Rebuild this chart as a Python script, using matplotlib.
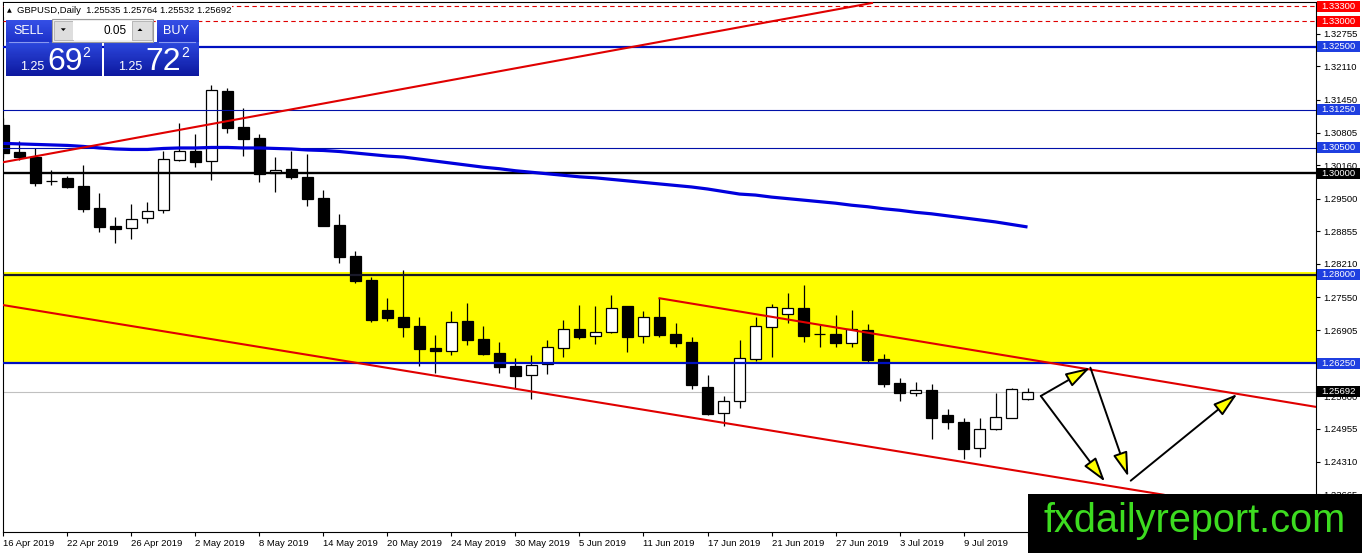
import matplotlib
matplotlib.use("Agg")
import matplotlib.pyplot as plt
import matplotlib.transforms as mtransforms
from matplotlib.patches import Rectangle, Polygon
import matplotlib.colors as mcolors
import numpy as np

plt.rcParams['font.family'] = ['Liberation Sans', 'DejaVu Sans']

# ---------------- data ----------------
opens = [1.30953, 1.30426, 1.30328, 1.29854, 1.29913, 1.29749, 1.29315, 1.28960, 1.28914, 1.29112,
         1.29270, 1.30263, 1.30440, 1.30237, 1.31625, 1.30914, 1.30697, 1.30000, 1.30079, 1.29927,
         1.29512, 1.28979, 1.28367, 1.27894, 1.27302, 1.27163, 1.26986, 1.26551, 1.26486, 1.27084,
         1.26729, 1.26447, 1.26196, 1.26013, 1.26242, 1.26557, 1.26926, 1.26782, 1.26861, 1.27381,
         1.26782, 1.27163, 1.26828, 1.26664, 1.25782, 1.25262, 1.25499, 1.26340, 1.26972, 1.27217,
         1.27335, 1.26828, 1.26828, 1.26644, 1.26901, 1.26328, 1.25855, 1.25657, 1.25722, 1.25229,
         1.25091, 1.24572, 1.24947, 1.25164, 1.25535]
highs = [1.31092, 1.30638, 1.30499, 1.30065, 1.29947, 1.30164, 1.29611, 1.29137, 1.29394, 1.29433,
         1.30446, 1.30987, 1.30776, 1.31737, 1.31678, 1.31283, 1.30770, 1.30316, 1.30446, 1.30381,
         1.29670, 1.29191, 1.28472, 1.27959, 1.27533, 1.28091, 1.27169, 1.26808, 1.27282, 1.27434,
         1.26986, 1.26670, 1.26348, 1.26413, 1.26709, 1.27104, 1.27400, 1.27381, 1.27598, 1.27390,
         1.27282, 1.27533, 1.27039, 1.26774, 1.26018, 1.25604, 1.26709, 1.27169, 1.27420, 1.27631,
         1.27795, 1.27025, 1.27203, 1.27302, 1.27025, 1.26427, 1.25953, 1.25880, 1.25835, 1.25341,
         1.25164, 1.25164, 1.25657, 1.25760, 1.25764]
lows = [1.30302, 1.30263, 1.29749, 1.29769, 1.29710, 1.29242, 1.28847, 1.28618, 1.28709, 1.29013,
        1.29210, 1.30243, 1.30130, 1.29868, 1.30790, 1.30347, 1.29834, 1.29637, 1.29882, 1.29355,
        1.28960, 1.28223, 1.27829, 1.27071, 1.27090, 1.26774, 1.26196, 1.26052, 1.26419, 1.26617,
        1.26413, 1.26064, 1.25768, 1.25551, 1.26044, 1.26374, 1.26735, 1.26630, 1.26842, 1.26478,
        1.26656, 1.26774, 1.26577, 1.25748, 1.25235, 1.25018, 1.25373, 1.26301, 1.26380, 1.27039,
        1.26676, 1.26577, 1.26565, 1.26577, 1.26249, 1.25787, 1.25511, 1.25604, 1.24761, 1.24947,
        1.24354, 1.24394, 1.24940, 1.25160, 1.25532]
closes = [1.30401, 1.30328, 1.29814, 1.29854, 1.29724, 1.29301, 1.28946, 1.28906, 1.29092, 1.29250,
          1.30276, 1.30440, 1.30229, 1.31644, 1.30900, 1.30683, 1.29986, 1.30065, 1.29933, 1.29499,
          1.28966, 1.28354, 1.27880, 1.27104, 1.27150, 1.26972, 1.26538, 1.26498, 1.27059, 1.26709,
          1.26433, 1.26182, 1.26005, 1.26216, 1.26565, 1.26921, 1.26774, 1.26861, 1.27335, 1.26774,
          1.27157, 1.26808, 1.26656, 1.25827, 1.25249, 1.25499, 1.26348, 1.26980, 1.27355, 1.27335,
          1.26794, 1.26828, 1.26644, 1.26932, 1.26315, 1.25841, 1.25657, 1.25722, 1.25176, 1.25097,
          1.24564, 1.24947, 1.25189, 1.25742, 1.25692]
ma_values = [1.3059, 1.3058, 1.3057, 1.3056, 1.3055, 1.3053, 1.3050, 1.3048, 1.3047, 1.3047,
             1.3049, 1.3050, 1.3050, 1.3051, 1.3051, 1.3050, 1.3050, 1.3049, 1.3048, 1.3046,
             1.3045, 1.3043, 1.3040, 1.3037, 1.3034, 1.3032, 1.3028, 1.3024, 1.3020, 1.3016,
             1.3012, 1.3009, 1.3005, 1.3002, 1.2999, 1.2996, 1.2993, 1.2991, 1.2988, 1.2985,
             1.2982, 1.2979, 1.2976, 1.2973, 1.2969, 1.2964, 1.2959, 1.2957, 1.2953, 1.2950,
             1.2947, 1.2944, 1.2941, 1.2937, 1.2934, 1.2930, 1.2927, 1.2923, 1.2920, 1.2916,
             1.2912, 1.2908, 1.2904, 1.2899, 1.2894]

date_labels = ['16 Apr 2019', '22 Apr 2019', '26 Apr 2019', '2 May 2019', '8 May 2019',
               '14 May 2019', '20 May 2019', '24 May 2019', '30 May 2019', '5 Jun 2019',
               '11 Jun 2019', '17 Jun 2019', '21 Jun 2019', '27 Jun 2019', '3 Jul 2019',
               '9 Jul 2019', '15 Jul 2019']
date_positions = list(range(0, 65, 4))

price_ticks = [1.32755, 1.32110, 1.31450, 1.30805, 1.30160, 1.29500, 1.28855, 1.28210,
               1.27550, 1.26905, 1.26250, 1.25600, 1.24955, 1.24310, 1.23665]

# horizontal levels
red_dashed_levels = [1.33300, 1.33000]
blue_thick_levels = [1.32500, 1.26250]
blue_thin_levels = [1.31250, 1.30500]
black_level = 1.30000
zone_low, zone_high = 1.26250, 1.28050
zone_line = 1.28000
bid_price = 1.25692

label_values = [1.33300, 1.33000, 1.32500, 1.31250, 1.30500, 1.30000, 1.28000, 1.26250, 1.25692]
label_colors = ['#ff0000', '#ff0000', '#1f3fe0', '#1f3fe0', '#1f3fe0', '#000000', '#1f3fe0',
                '#1f3fe0', '#000000']

# trend lines (bar index, price)
rise_x, rise_y = [-0.05, 54.28], [1.30217, 1.33362]
lower_x, lower_y = [-0.05, 72.5], [1.27400, 1.23655]
upper_x, upper_y = [41.0, 82.1], [1.27533, 1.25385]

# arrows (bar index, price)
arrow_starts = [(64.83, 1.25604), (64.83, 1.25604), (67.93, 1.26163), (70.45, 1.23932)]
arrow_ends = [(67.91, 1.26163), (68.84, 1.23912), (70.30, 1.24010), (77.11, 1.25643)]

# ---------------- figure ----------------
W, H, DPI = 1362, 553, 100
fig = plt.figure(figsize=(W / DPI, H / DPI), dpi=DPI, facecolor='white')
L, R, T, B = 3, 1316, 1.5, 532
ax = fig.add_axes([L / W, 1 - B / H, (R - L) / W, (B - T) / H])
ymin, ymax = 1.22919, 1.33391
ax.set_xlim(-0.03, 82.03)
ax.set_ylim(ymin, ymax)

# yellow zone
ax.axhspan(zone_low, zone_high, color='#ffff00', zorder=1, lw=0)

# candles
idx = np.arange(len(opens))
o, h, l, c = map(np.array, (opens, highs, lows, closes))
ax.vlines(idx, l, h, color='black', lw=0.9, zorder=3)
bull = c > o
bear = c < o
doji = c == o
bw = 0.68
ax.bar(idx[bull], c[bull] - o[bull], bottom=o[bull], width=bw, color='white',
       edgecolor='black', lw=0.9, zorder=4)
ax.bar(idx[bear], o[bear] - c[bear], bottom=c[bear], width=bw, color='black',
       edgecolor='black', lw=0.9, zorder=4)
ax.hlines(c[doji], idx[doji] - bw / 2, idx[doji] + bw / 2, color='black', lw=0.9, zorder=4)

# horizontal lines
for v in red_dashed_levels:
    ax.axhline(v, color='#e00000', lw=0.8, ls=(0, (4, 3)), zorder=5)
for v in blue_thick_levels:
    ax.axhline(v, color='#0010c0', lw=1.6, zorder=5)
for v in blue_thin_levels:
    ax.axhline(v, color='#0010a8', lw=0.8, zorder=5)
ax.axhline(black_level, color='black', lw=1.7, zorder=5)
ax.axhline(zone_line, color='#1a1a2a', lw=1.6, zorder=5)
ax.axhline(bid_price, color='#c0c0c0', lw=0.8, zorder=2)

# moving average
ax.plot(idx, ma_values, color='#0000dd', lw=2.3, zorder=6, solid_capstyle='butt')

# trend lines
for xs, ys in ((rise_x, rise_y), (lower_x, lower_y), (upper_x, upper_y)):
    ax.plot(xs, ys, color='#e00000', lw=1.5, zorder=6)

# arrows
for (x0, y0), (x1, y1) in zip(arrow_starts, arrow_ends):
    ax.annotate('', xy=(x1, y1), xytext=(x0, y0),
                arrowprops=dict(arrowstyle='-|>,head_length=1.5,head_width=0.45',
                                mutation_scale=10, fc='#ffff00', ec='black', lw=1.4,
                                shrinkA=0, shrinkB=0), zorder=8)

# axes styling
for s in ax.spines.values():
    s.set_color('black')
    s.set_linewidth(0.8)
ax.yaxis.tick_right()
ax.set_yticks(price_ticks)
ax.set_yticklabels([f'{v:.5f}' for v in price_ticks])
ax.set_xticks(date_positions)
ax.set_xticklabels(date_labels, ha='left')
ax.tick_params(axis='y', direction='out', length=3, width=0.8, pad=2, labelsize=6.8,
               colors='black')
ax.tick_params(axis='x', direction='out', length=3, width=0.8, pad=2, labelsize=6.8,
               colors='black')

# price label boxes at the right
trans = mtransforms.blended_transform_factory(fig.transFigure, ax.transData)
bh = 11 * (ymax - ymin) / (B - T)
for v, col in zip(label_values, label_colors):
    ax.add_patch(Rectangle((1317 / W, v - bh / 2), 43 / W, bh, transform=trans,
                           facecolor=col, edgecolor='none', clip_on=False, zorder=10))
    ax.text(1338.5 / W, v, f'{v:.5f}', transform=trans, color='white', fontsize=6.8,
            ha='center', va='center', clip_on=False, zorder=11)

# ---------------- overlay (pixel coordinates) ----------------
ov = fig.add_axes([0, 0, 1, 1], zorder=20)
ov.set_xlim(0, W)
ov.set_ylim(H, 0)
ov.axis('off')
ov.patch.set_alpha(0)


def grad_rect(x0, y0, x1, y1, c_top, c_bot, n=30):
    ct = np.array(mcolors.to_rgb(c_top))
    cb = np.array(mcolors.to_rgb(c_bot))
    hh = (y1 - y0) / n
    for k in range(n):
        t = (k + 0.5) / n
        ov.add_patch(Rectangle((x0, y0 + k * hh), x1 - x0, hh * 1.05,
                               facecolor=ct * (1 - t) + cb * t, edgecolor='none', zorder=2))


# header text
ov.add_patch(Rectangle((4, 3), 228, 14, facecolor='white', edgecolor='none', zorder=1))
ov.text(7, 10.5, '\u25b2', fontsize=4.5, family=['DejaVu Sans'], va='center', ha='left',
        color='black', zorder=3)
ov.text(17, 10.5, 'GBPUSD,Daily  1.25535 1.25764 1.25532 1.25692', fontsize=6.8,
        va='center', ha='left', color='black', zorder=3)

# trading panel
grad_rect(6, 20, 52, 42, '#3550e6', '#1c30c8')
grad_rect(157, 20, 199, 42, '#3550e6', '#1c30c8')
grad_rect(6, 42, 101.5, 76, '#2c48de', '#0c179e')
grad_rect(104, 42, 199, 76, '#2c48de', '#0c179e')
ov.plot([9, 48], [41.7, 41.7], color='#8898f0', lw=0.8, zorder=3)
ov.plot([159, 195], [41.7, 41.7], color='#8898f0', lw=0.8, zorder=3)
ov.text(28.5, 31, 'SELL', color='white', fontsize=9, ha='center', va='center', zorder=4)
ov.text(176, 31, 'BUY', color='white', fontsize=9, ha='center', va='center', zorder=4)

ov.add_patch(Rectangle((52, 19), 101, 23, facecolor='#f2f2f2', edgecolor='#9a9a9a', lw=0.8, zorder=2))
ov.add_patch(Rectangle((53.5, 21), 19.5, 19, facecolor='#dedede', edgecolor='#b0b0b0', lw=0.6, zorder=3))
ov.add_patch(Rectangle((73, 21), 59, 19, facecolor='white', edgecolor='none', zorder=3))
ov.add_patch(Rectangle((132, 21), 19.5, 19, facecolor='#dedede', edgecolor='#b0b0b0', lw=0.6, zorder=3))
ov.add_patch(Polygon([(60.8, 28.3), (65.8, 28.3), (63.3, 31)], closed=True, facecolor='black',
                     edgecolor='none', zorder=4))
ov.add_patch(Polygon([(137.5, 31), (142.5, 31), (140, 28.3)], closed=True, facecolor='black',
                     edgecolor='none', zorder=4))
ov.text(127, 31, '0.05', color='black', fontsize=8.5, ha='right', va='center', zorder=4)

for x_small, x_big, x_sup, big in ((20.5, 47, 82, '69'), (118.5, 145.5, 181.5, '72')):
    ov.text(x_small, 70, '1.25', color='white', fontsize=9, ha='left', va='baseline', zorder=4)
    ov.text(x_big, 70, big, color='white', fontsize=23, ha='left', va='baseline', zorder=4)
    ov.text(x_sup, 57, '2', color='white', fontsize=10, ha='left', va='baseline', zorder=4)

# watermark
ov.add_patch(Rectangle((1028, 494), W - 1028, H - 494, facecolor='black', edgecolor='none', zorder=5))
ov.text(1044, 532.5, 'fxdailyreport.com', color='#3ddc20', fontsize=28.6, ha='left',
        va='baseline', zorder=6)

fig.savefig('out.png', dpi=DPI)
